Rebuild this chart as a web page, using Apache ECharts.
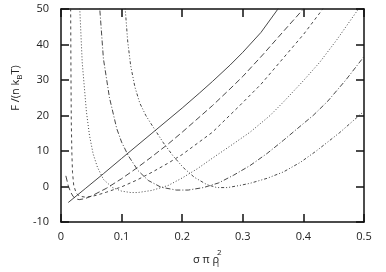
<!DOCTYPE html>
<html><head><meta charset="utf-8">
<script src="https://cdn.jsdelivr.net/npm/echarts@6/dist/echarts.min.js"></script>
<style>html,body{margin:0;padding:0;background:#fff}#c{width:386px;height:272px}</style>
</head><body><div id="c"></div><script>
const xTickLabels=['0','0.1','0.2','0.3','0.4','0.5'];
const yTickLabels=['-10','0','10','20','30','40','50'];

const curveSolid=[[0.012,-4.5],[0.04,-0.6],[0.07,3.6],[0.1,7.9],[0.15,15],[0.2,22.1],[0.229,26.4],[0.25,29.6],[0.279,34.2],[0.3,37.8],[0.33,43.4],[0.358,50],[0.365,52]];
const curveLongDash=[[0.008,3],[0.012,0.2],[0.016,-1.6],[0.02,-2.8],[0.025,-3.5],[0.03,-3.7],[0.04,-3.4],[0.05,-2.7],[0.075,-0.5],[0.1,2.2],[0.125,5.2],[0.15,8.4],[0.177,12],[0.2,15.3],[0.25,22.8],[0.279,27.5],[0.3,31],[0.334,37.3],[0.366,43.5],[0.4,50],[0.41,52]];
const curveShortDash=[[0.0155,62],[0.016,48],[0.0165,30],[0.017,18],[0.018,9],[0.019,4],[0.021,0.3],[0.025,-1.8],[0.03,-2.7],[0.04,-3],[0.05,-2.8],[0.06,-2.4],[0.075,-1.6],[0.1,-0.1],[0.125,1.8],[0.15,4],[0.177,6.6],[0.2,9],[0.25,15.3],[0.295,22.8],[0.33,28.8],[0.361,35],[0.4,42.8],[0.432,50],[0.44,52]];
const curveDotted=[[0.029,62],[0.031,50],[0.035,35],[0.042,21],[0.047,14.4],[0.053,9.2],[0.06,5.5],[0.07,2],[0.085,-0.3],[0.1,-1.3],[0.115,-1.7],[0.127,-1.7],[0.15,-1.1],[0.177,0.3],[0.2,2.4],[0.225,5],[0.25,8],[0.28,11.5],[0.312,15.3],[0.345,20],[0.367,23.8],[0.4,29.8],[0.427,35],[0.455,41.3],[0.485,48.6],[0.495,51]];
const curveDashDot=[[0.062,58],[0.064,50],[0.07,36],[0.08,25],[0.092,16.3],[0.1,12.5],[0.111,8.7],[0.127,4.5],[0.144,1.7],[0.165,-0.2],[0.19,-1],[0.21,-1],[0.235,-0.3],[0.26,1],[0.285,3.2],[0.312,5.9],[0.34,9.3],[0.367,13],[0.39,16.3],[0.416,20],[0.44,24],[0.47,30],[0.5,36.6]];
const curveDashDotDot=[[0.104,60],[0.106,50],[0.11,41],[0.115,34],[0.122,28],[0.13,23.5],[0.14,20],[0.15,17.3],[0.158,15.2],[0.169,12.3],[0.185,8.6],[0.202,5.3],[0.22,2.6],[0.24,0.6],[0.257,-0.3],[0.275,-0.3],[0.295,0.3],[0.312,0.9],[0.34,2.3],[0.367,4.1],[0.395,6.8],[0.422,10.1],[0.46,15.2],[0.5,21.2]];

const font='"Open Sans","DejaVu Sans",sans-serif';
const ink='#111';
const chart=echarts.init(document.getElementById('c'));

function mkX(pos,showLabel){
  return {type:'value',min:0,max:0.5,interval:0.1,position:pos,
    axisLine:{show:true,onZero:false,lineStyle:{color:ink,width:1.5}},
    axisTick:{show:true,inside:true,length:8,lineStyle:{color:ink,width:1.5}},
    axisLabel:{show:showLabel,margin:9,color:'#222',fontSize:11,fontFamily:font,
      formatter:(v)=>xTickLabels[Math.round(v*10)]},
    splitLine:{show:false}};
}
function mkY(pos,showLabel){
  return {type:'value',min:-10,max:50,interval:10,position:pos,
    axisLine:{show:true,onZero:false,lineStyle:{color:ink,width:1.5}},
    axisTick:{show:true,inside:true,length:8,lineStyle:{color:ink,width:1.5}},
    axisLabel:{show:showLabel,margin:12,color:'#222',fontSize:11,fontFamily:font,
      formatter:(v)=>yTickLabels[Math.round((v+10)/10)]},
    splitLine:{show:false}};
}
function mkSeries(data,type){
  return {type:'line',data:data,xAxisIndex:0,yAxisIndex:0,showSymbol:false,symbol:'none',
    smooth:false,clip:true,
    lineStyle:{color:'#333',width:0.9,type:type}};
}
chart.setOption({
  animation:false,
  grid:{left:61,right:22,top:9,bottom:50},
  xAxis:[mkX('bottom',true),mkX('top',false)],
  yAxis:[mkY('left',true),mkY('right',false)],
  series:[
    mkSeries(curveSolid,'solid'),
    mkSeries(curveLongDash,[6,3]),
    mkSeries(curveShortDash,[3,3]),
    mkSeries(curveDotted,[1,2]),
    mkSeries(curveDashDot,[5,2,1,2]),
    mkSeries(curveDashDotDot,[3,2,1,2,1,2])
  ],
  graphic:[
    {type:'text',x:16,y:88,rotation:Math.PI/2,
      style:{text:'F /(n k{b|B}T)',align:'center',verticalAlign:'middle',fill:'#222',
        font:'11px '+font,rich:{b:{fontSize:8,fontFamily:font,fill:'#222',padding:[7,0,0,0]}}}},
    {type:'text',x:206,y:260,
      style:{text:'σ π ρ',align:'center',verticalAlign:'middle',fill:'#222',font:'11px '+font}},
    {type:'text',x:217,y:265,
      style:{text:'i',align:'left',verticalAlign:'middle',fill:'#222',font:'8px '+font}},
    {type:'text',x:217,y:253,
      style:{text:'2',align:'left',verticalAlign:'middle',fill:'#222',font:'8px '+font}}
  ]
});
</script></body></html>
